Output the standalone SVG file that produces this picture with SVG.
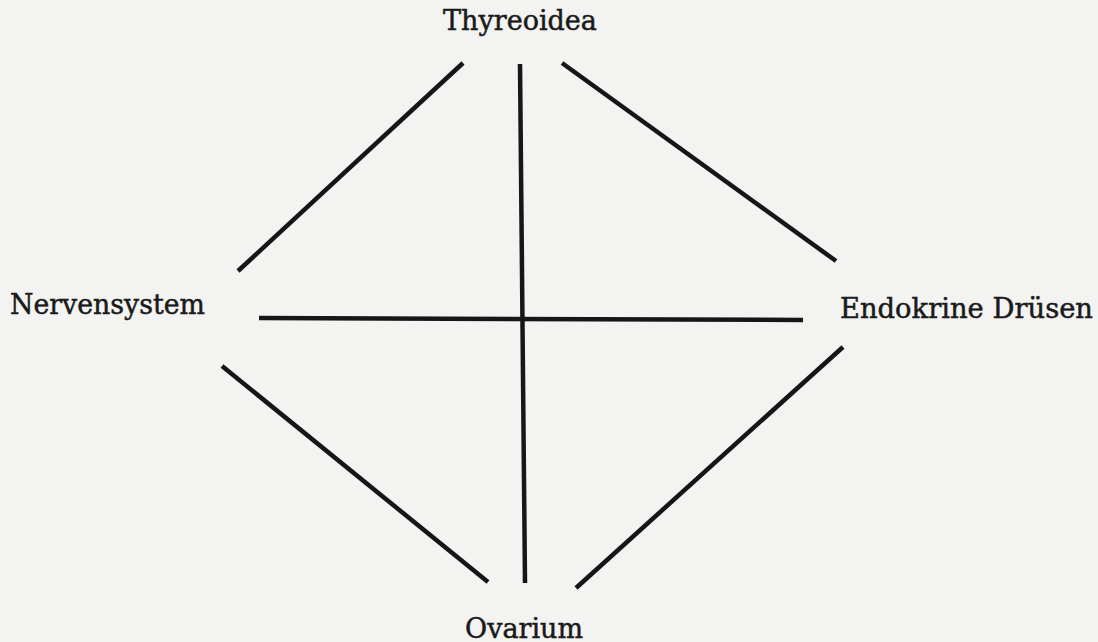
<svg xmlns="http://www.w3.org/2000/svg" width="1098" height="642" viewBox="0 0 1098 642">
<style>
.lbl{font-family:"DejaVu Serif","Liberation Serif",serif;font-size:27px;fill:#1a1a1a;stroke:#1a1a1a;stroke-width:0.5}
.ln{stroke:#161616;stroke-width:4.5;stroke-linecap:butt;fill:none}
</style>
<rect width="1098" height="642" fill="#f3f3f1"/>
<g id="connectors">
<line class="ln" x1="463" y1="63" x2="238" y2="271"/>
<line class="ln" x1="520" y1="64" x2="525" y2="583"/>
<line class="ln" x1="562" y1="63" x2="836" y2="261"/>
<line class="ln" x1="259" y1="318" x2="803" y2="320"/>
<line class="ln" x1="222" y1="366" x2="488" y2="582"/>
<line class="ln" x1="843" y1="347" x2="576" y2="588"/>
</g>
<g id="thyreoidea"><text class="lbl" x="443" y="30" textLength="154" lengthAdjust="spacingAndGlyphs">Thyreoidea</text></g>
<g id="nervensystem"><text class="lbl" x="10" y="314" textLength="195" lengthAdjust="spacingAndGlyphs">Nervensystem</text></g>
<g id="endokrine"><text class="lbl" x="840" y="318" textLength="253" lengthAdjust="spacingAndGlyphs">Endokrine Drüsen</text></g>
<g id="ovarium"><text class="lbl" x="465" y="638" textLength="118" lengthAdjust="spacingAndGlyphs">Ovarium</text></g>
</svg>
